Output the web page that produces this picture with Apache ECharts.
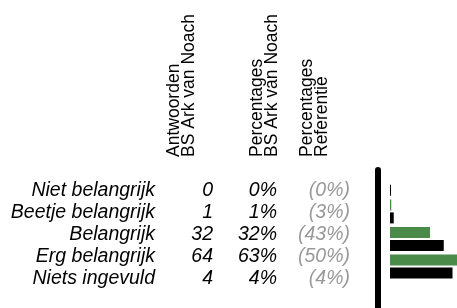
<!DOCTYPE html>
<html>
<head>
<meta charset="utf-8">
<script src="https://cdn.jsdelivr.net/npm/echarts@6/dist/echarts.min.js"></script>
<style>html,body{margin:0;padding:0;background:#fff}#c{width:457px;height:308px}</style>
</head>
<body>
<div id="c"></div>
<script>
const categories = ['Niet belangrijk', 'Beetje belangrijk', 'Belangrijk', 'Erg belangrijk', 'Niets ingevuld'];
const counts = [0, 1, 32, 64, 4];
const schoolPct = [0, 1, 32, 63, 4];
const refPct = [0, 3, 43, 50, 4];
// bars drawn in the picture (the last category shows no bars)
const schoolBars = [0, 1, 32, 63, null];
const refBars = [0, 3, 43, 50, null];
const headers = ['Antwoorden\nBS Ark van Noach', 'Percentages\nBS Ark van Noach', 'Percentages\nReferentie'];

const FONT = "'Liberation Sans', Arial, sans-serif";
const chart = echarts.init(document.getElementById('c'), null, {renderer: 'canvas'});

const labelStyle = {fontFamily: FONT, fontStyle: 'italic', fontSize: 19.5, color: '#000'};
const tableAxis = (data, offset, color) => ({
  gridIndex: 1, type: 'category', inverse: true, position: 'left', offset: offset,
  data: data,
  axisLine: {show: false}, axisTick: {show: false}, splitLine: {show: false},
  axisLabel: Object.assign({}, labelStyle, {margin: 0, interval: 0, color: color || '#000', align: 'right', hideOverlap: false})
});

const headerX = [167, 250, 300];

chart.setOption({
  animation: false,
  grid: [
    {left: 390, top: 170, width: 67, height: 138.5},
    {left: 360, top: 180, width: 50, height: 110}
  ],
  xAxis: [
    {gridIndex: 0, type: 'value', min: 0, max: 53.6, show: false},
    {gridIndex: 1, type: 'value', show: false}
  ],
  yAxis: [
    {gridIndex: 0, type: 'category', inverse: true, data: categories, offset: 12,
     axisLine: {show: true, onZero: false, lineStyle: {color: '#000', width: 6}},
     axisTick: {show: false}, axisLabel: {show: false}},
    tableAxis(categories, 360 - 155),
    tableAxis(counts.map(String), 360 - 213),
    tableAxis(schoolPct.map(v => v + '%'), 360 - 277),
    tableAxis(refPct.map(v => '(' + v + '%)'), 360 - 350, '#999999')
  ],
  series: [
    {type: 'bar', xAxisIndex: 0, yAxisIndex: 0, data: schoolBars, barWidth: 11, barGap: '18%',
     itemStyle: {color: '#4a8b4a'}},
    {type: 'bar', xAxisIndex: 0, yAxisIndex: 0, data: refBars, barWidth: 11, barMinHeight: 1,
     itemStyle: {color: '#000000'}}
  ],
  graphic: headers.map((h, i) => ({
    type: 'text', x: headerX[i], y: 157, rotation: Math.PI / 2,
    style: {text: h, font: '17.5px ' + FONT, fill: '#000', align: 'left', verticalAlign: 'top', lineHeight: 14.5}
  }))
});
</script>
</body>
</html>
